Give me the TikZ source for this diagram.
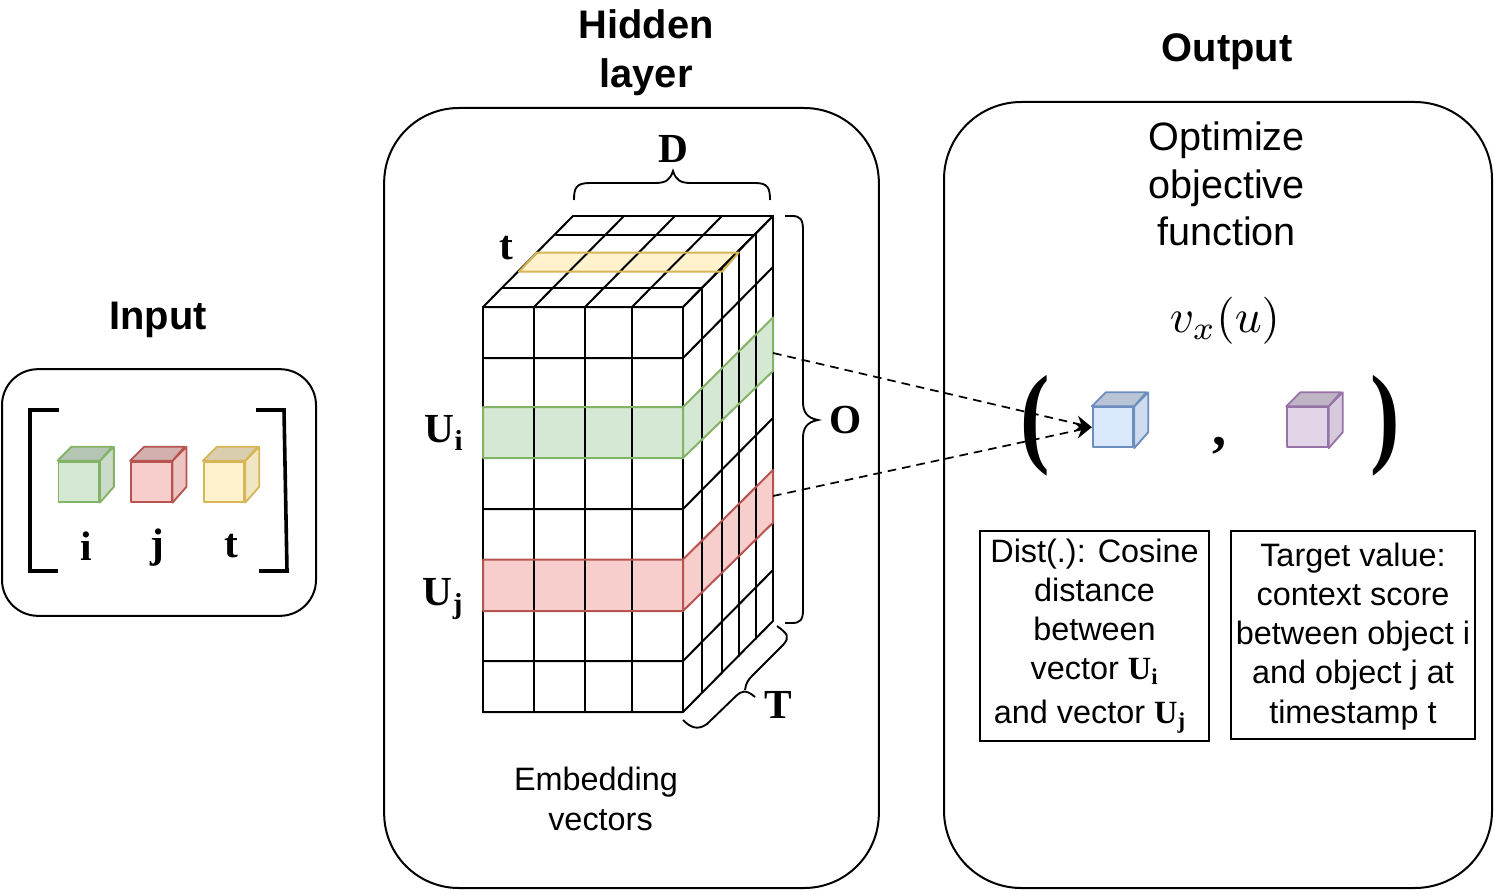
\documentclass[tikz,border=0pt]{standalone}
\usepackage{graphicx}
\usepackage{fontspec}
\setmainfont{Liberation Sans}
\newfontfamily\tms{Liberation Serif}
\usetikzlibrary{arrows.meta}
\definecolor{gfill}{HTML}{D5E8D4}\definecolor{gline}{HTML}{82B366}
\definecolor{rfill}{HTML}{F8CECC}\definecolor{rline}{HTML}{B85450}
\definecolor{yfill}{HTML}{FFF2CC}\definecolor{yline}{HTML}{D6B656}
\definecolor{bfill}{HTML}{DAE8FC}\definecolor{bline}{HTML}{6C8EBF}
\definecolor{pfill}{HTML}{E1D5E7}\definecolor{pline}{HTML}{9673A6}
\tikzset{
  panel/.style={draw=black,line width=1.5pt,inner sep=0pt},
  headtxt/.style={inner sep=0pt,align=center,font=\bfseries\fontsize{29.9}{37}\selectfont},
  bodytxt/.style={inner sep=0pt,align=center,font=\fontsize{29.7}{35.6}\selectfont},
  smalltxt/.style={inner sep=0pt,align=center,font=\fontsize{24.3}{29.6}\selectfont},
  serifb/.style={inner sep=0pt,font=\tms\bfseries\fontsize{31}{36}\selectfont},
  infobox/.style={draw=black,line width=1.2pt,inner sep=0pt,align=center,font=\fontsize{24.3}{29.4}\selectfont},
  gridln/.style={draw=black,line width=1.5pt,line cap=round},
  bandln/.style={line width=1.5pt,line join=round},
  bracketln/.style={draw=black,line width=2.7pt},
  braceln/.style={draw=black,line width=1.4pt},
  dashln/.style={draw=black,line width=1.3pt,dash pattern=on 6.5pt off 4.5pt},
  cubeface/.style={line width=1.4pt,line join=round},
}
\newcommand{\cubeat}[5]{%
  \node[draw=#5,fill=#4,cubeface,minimum width=30.4pt,minimum height=30pt,inner sep=0pt] (#1) at (#2,#3) {};
  \fill[#4!95!black,draw=#5,cubeface] (#1.north east) -- ++(14,-14) -- ++(0,40) -- (#1.south east) -- cycle;
  \fill[#4!85!black,draw=#5,cubeface] (#1.north west) -- ++(14,-14) -- ++(40.5,0) -- (#1.north east) -- cycle;
}
\newcommand{\sbs}[1]{\textsubscript{#1}}
\begin{document}
\begin{tikzpicture}[x=0.75pt,y=-0.75pt]
\useasboundingbox (0,0) rectangle (1495,895);
% panels
\node[panel,rounded corners=27pt,minimum width=235.5pt,minimum height=185pt] (inputbox) at (159,492.5) {};
\node[panel,rounded corners=56pt,minimum width=371pt,minimum height=585pt] (hiddenbox) at (631.5,498) {};
\node[panel,rounded corners=58pt,minimum width=411pt,minimum height=589.5pt] (outputbox) at (1218,495) {};
% titles
\node[headtxt] (inputtitle) at (158,320) {Input};
\node[headtxt] (hiddentitle) at (646,53) {Hidden\\layer};
\node[headtxt] (outputtitle) at (1227,52) {Output};
% input brackets
\draw[bracketln] (59,410) -- (30,410) -- (30,571) -- (58,571);
\draw[bracketln] (256,410) -- (284,410) -- (287,571) -- (259,571);
% input cubes
\cubeat{cubei}{78.7}{481.7}{gfill}{gline}
\cubeat{cubej}{151.3}{481.7}{rfill}{rline}
\cubeat{cubet}{224}{481.7}{yfill}{yline}
\node[serifb] (labi) at (86,546) {i};
\node[serifb] (labj) at (157,548) {j};
\node[serifb] (labt) at (231,546) {t};
% band fills
\fill[gfill] (483,407) -- (683,407) -- (773,317.5) -- (773,371) -- (683,458) -- (483,458) -- cycle;
\fill[rfill] (483,559.5) -- (683,559.5) -- (773,470) -- (773,522.7) -- (683,611) -- (483,611) -- cycle;
\fill[yfill] (519,271.7) -- (722,271.7) -- (738.7,252.5) -- (537,252.5) -- cycle;
% grid
\foreach \x in {483,534,585,632,683} {
  \draw[gridln] (\x,307) -- (\x,712);
  \draw[gridln] (\x,307) -- ++(90,-91);
}
\foreach \y in {307,358,509,661,712} {
  \draw[gridln] (483,\y) -- (683,\y) -- ++(90,-91);
}
\draw[gridln] (502,288) -- (702,288);
\draw[gridln] (556,234.7) -- (756,234.7);
\draw[gridln] (573,216) -- (773,216);
\draw[gridln] (702,288) -- (702,692);
\draw[gridln] (722,268) -- (722,673);
\draw[gridln] (739,252) -- (739,656);
\draw[gridln] (756,234.7) -- (756,639);
\draw[gridln] (773,216) -- (773,621);
% band outlines
\draw[gline,bandln] (483,407) -- (683,407) -- (773,317.5) -- (773,371) -- (683,458) -- (483,458) -- cycle (683,407) -- (683,458);
\draw[rline,bandln] (483,559.5) -- (683,559.5) -- (773,470) -- (773,522.7) -- (683,611) -- (483,611) -- cycle (683,559.5) -- (683,611);
\draw[yline,bandln] (519,271.7) -- (722,271.7) -- (738.7,252.5) -- (537,252.5) -- cycle;
% grid labels
\node[serifb] (labtt) at (506,248) {t};
\node[serifb] (labui) at (444,433) {U\sbs{i}};
\node[serifb] (labuj) at (443,599) {U\sbs{j}};
\node[serifb] (labd) at (673,149) {D};
\node[serifb] (labo) at (846,420) {O};
\node[serifb] (labT) at (778,705) {T};
% braces
\draw[braceln] (574,200) .. controls (574,188) and (576,183) .. (590,183) -- (655,183) .. controls (666,183) and (670,180) .. (673,171) .. controls (676,180) and (680,183) .. (691,183) -- (755,183) .. controls (768,183) and (770,188) .. (770,200);
\draw[braceln] (785,216) -- (792,216) .. controls (800,216) and (803,219) .. (803,230) -- (803,402) .. controls (803,412) and (807,418) .. (818,420) .. controls (807,422) and (803,428) .. (803,438) -- (803,610) .. controls (803,620) and (800,623) .. (792,623) -- (785,623);
\draw[braceln] (683,720) .. controls (690,727) and (697,731) .. (707,724) -- (736,696) .. controls (741,691) and (746,689) .. (755,697);
\draw[braceln] (745,690) .. controls (746,683) and (748,680) .. (752,676) -- (783,645) .. controls (790,637) and (788,634) .. (777,626);
% embedding
\node[smalltxt] (embed) at (596,799) {Embedding\\[0.6pt]\phantom{.}vectors};
% output
\node[bodytxt] (optim) at (1226.5,184) {Optimize\\objective\\function};
\node[inner sep=0pt] (vx) at (1225,321) {\scalebox{3.53}{$v_x(u)$}};
% cubes
\cubeat{cubeb}{1113}{427.2}{bfill}{bline}
\cubeat{cubep}{1307.5}{427.2}{pfill}{pline}
% dashed
\coordinate (gstart) at (773,353);
\coordinate (rstart) at (773,496);
\draw[dashln,-{Stealth[length=12pt,width=12pt,inset=4pt]}] (gstart) -- (cubeb.west);
\draw[dashln,-{Stealth[length=12pt,width=12pt,inset=4pt]}] (rstart) -- (cubeb.west);
% large parens
\node[inner sep=0pt,font=\tms\bfseries\fontsize{78}{90}\selectfont] (lpar) at (1035,426) {\scalebox{0.85}[1.07]{(}};
\node[inner sep=0pt,font=\tms\bfseries\fontsize{78}{90}\selectfont] (rpar) at (1385.5,426) {\scalebox{0.85}[1.07]{)}};
\node[inner sep=0pt,font=\tms\bfseries\fontsize{42}{50}\selectfont] (comma) at (1219,446) {,};
% boxes
\node[infobox,minimum width=171.8pt,minimum height=157.5pt] (boxa) at (1094.5,636) {Dist(.): Cosine\\distance\\between\\vector {\tms\bfseries U\sbs{i}}\\[3.5pt]and vector {\tms\bfseries U\sbs{j}}\hspace*{7pt}};
\node[infobox,minimum width=183pt,minimum height=156pt,text depth=0pt] (boxb) at (1353,635) {\vphantom{g}\\[-28pt]Target value:\\context score\\between object i\\and object j at\\timestamp t};
\end{tikzpicture}
\end{document}
